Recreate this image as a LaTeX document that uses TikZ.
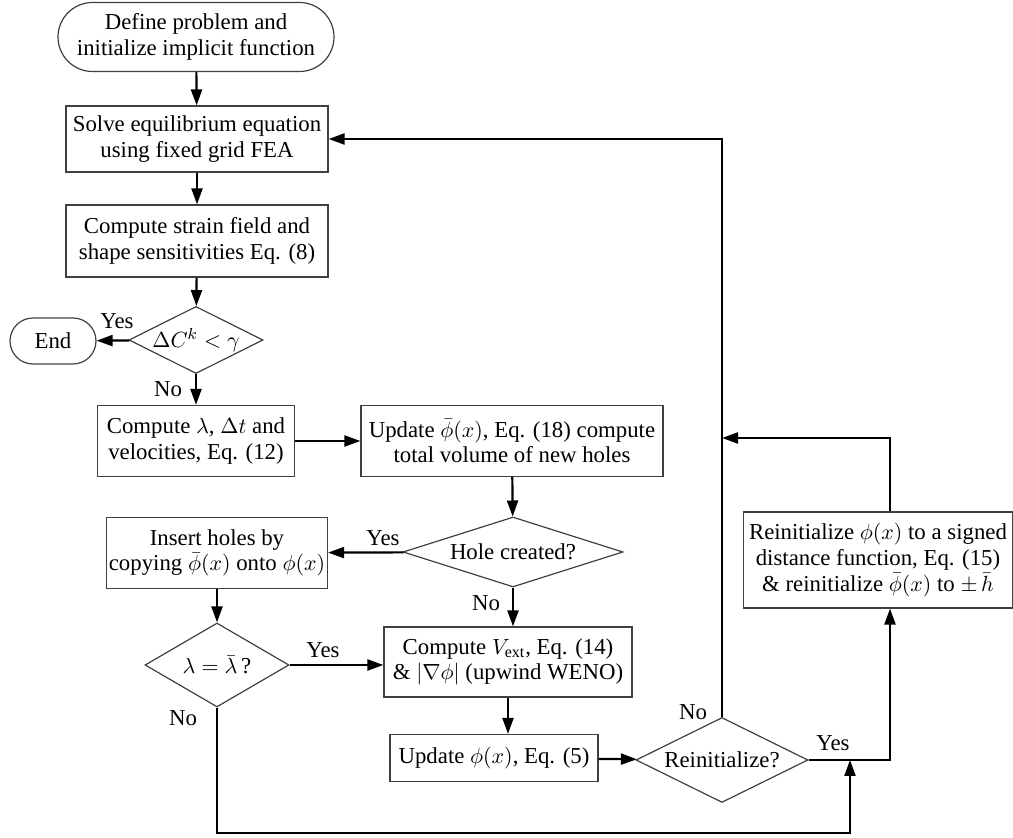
\documentclass[tikz,border=0pt]{standalone}
\usepackage{fontspec}
\setmainfont{Liberation Serif}
\usetikzlibrary{shapes.geometric,shapes.misc,arrows.meta,positioning}

\begin{document}
\begin{tikzpicture}[x=0.5pt, y=-0.5pt, font=\fontsize{11.4}{12.8}\selectfont,
    box/.style={draw=black!75, line width=0.6pt, align=center, inner sep=0pt},
    term/.style={box, rounded rectangle},
    decision/.style={draw=black!75, line width=0.6pt, diamond, inner sep=0pt, align=center},
    flow/.style={line width=1.1pt, -{Triangle[length=8pt,width=5.5pt]}},
    lbl/.style={inner sep=1pt}]
        \useasboundingbox (0,0) rectangle (1013,838);

        % Main column
        \node[term, minimum width=138pt, minimum height=34.5pt] (start) at (196,37) {Define problem and\\initialize implicit function};
        \node[box, minimum width=131pt, minimum height=33pt] (solve) at (197,139) {Solve equilibrium equation\\using fixed grid FEA};
        \node[box, minimum width=131pt, minimum height=36pt] (strain) at (197,241) {Compute strain field and\\shape sensitivities Eq. (8)};
        \node[decision, aspect=2, minimum width=63pt, minimum height=31.5pt] (conv) at (196,340) {$\Delta C^{k}<\gamma$};
        \node[term, minimum width=43pt, minimum height=23pt] (end) at (53,341) {End};
        \node[box, minimum width=98.5pt, minimum height=35.5pt] (lam) at (196,441) {Compute $\lambda$, $\Delta t$ and\\velocities, Eq. (12)};

        % Hole nucleation
        \node[box, minimum width=151pt, minimum height=35.5pt] (upd) at (512,441) {Update $\bar{\phi}(x)$, Eq. (18) compute\\total volume of new holes};
        \node[decision, aspect=3.1, minimum width=110pt, minimum height=35pt] (hole) at (513,552) {Hole created?};
        \node[box, minimum width=110.5pt, minimum height=35.5pt] (ins) at (217,553) {Insert holes by\\copying $\bar{\phi}(x)$ onto $\phi(x)$};
        \node[decision, aspect=1.7, minimum width=72pt, minimum height=42pt] (lamchk) at (217,665) {$\lambda=\bar{\lambda}$\,?};

        % Level set update
        \node[box, minimum width=124pt, minimum height=35pt] (vext) at (508,662) {Compute $V_{\mathrm{ext}}$, Eq. (14)\\\& $|\nabla\phi|$ (upwind WENO)};
        \node[box, minimum width=104pt, minimum height=23.5pt] (phi) at (494,758) {Update $\phi(x)$, Eq. (5)};
        \node[decision, aspect=2, minimum width=86pt, minimum height=42.5pt] (reinit) at (722,760) {Reinitialize?};
        \node[box, minimum width=134.5pt, minimum height=48pt] (rebox) at (878,560) {Reinitialize $\phi(x)$ to a signed\\distance function, Eq. (15)\\\& reinitialize $\bar{\phi}(x)$ to $\pm\,\bar{h}$};

        % Helper points
        \coordinate (rx) at (890,0);
        \coordinate (j2) at (722,438);
        \coordinate (loop) at (850,833);

        % Connections
        \draw[flow] (start) -- (solve);
        \draw[flow] (solve) -- (strain);
        \draw[flow] (strain) -- (conv);
        \draw[flow] (conv) -- (end);
        \draw[flow] (conv) -- (lam);
        \draw[flow] (lam) -- (upd);
        \draw[flow] (upd) -- (hole);
        \draw[flow] (hole) -- (ins);
        \draw[flow] (ins) -- (lamchk);
        \draw[flow] (lamchk.east) -- (lamchk.east -| vext.west);
        \draw[flow] (hole) -- (hole |- vext.north);
        \draw[flow] (vext) -- (vext |- phi.north);
        \draw[flow] (phi) -- (reinit);
        \draw[flow] (reinit.north) |- (solve.east);
        \draw[flow] (reinit.east) -| (rx |- rebox.south);
        \draw[flow] (rx |- rebox.north) |- (j2);
        \draw[flow] (lamchk.south) |- (loop) -- (loop |- reinit.east);

        % Branch labels
        \node[lbl] (y1) at (117,321) {Yes};
        \node[lbl] (n1) at (168,389) {No};
        \node[lbl] (y2) at (383,538) {Yes};
        \node[lbl] (n2) at (486,603) {No};
        \node[lbl] (y3) at (323,650) {Yes};
        \node[lbl] (n3) at (183,718) {No};
        \node[lbl] (n4) at (693,712) {No};
        \node[lbl] (y4) at (833,743) {Yes};
    \end{tikzpicture}
\end{document}
